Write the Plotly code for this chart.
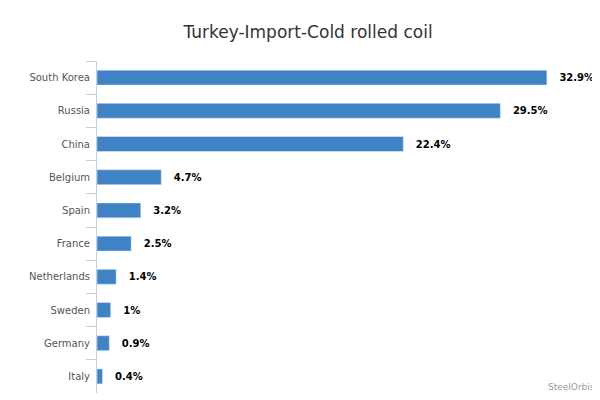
import plotly.graph_objects as go

countries = ["South Korea", "Russia", "China", "Belgium", "Spain", "France",
             "Netherlands", "Sweden", "Germany", "Italy"]
shares = [32.9, 29.5, 22.4, 4.7, 3.2, 2.5, 1.4, 1.0, 0.9, 0.4]
labels = ["32.9%", "29.5%", "22.4%", "4.7%", "3.2%", "2.5%", "1.4%", "1%", "0.9%", "0.4%"]

fig = go.Figure(go.Bar(
    x=shares, y=countries, orientation="h",
    marker=dict(color="#4083c4"), width=0.45,
    text=labels, texttemplate="   <b>%{text}</b>", textposition="outside", cliponaxis=False,
    textfont=dict(family="DejaVu Sans", size=10, color="#000000"),
))
fig.update_layout(
    width=600, height=400, plot_bgcolor="white", paper_bgcolor="white",
    margin=dict(l=89, r=1, t=53, b=15, autoexpand=False),
    title=dict(text="Turkey-Import-Cold rolled coil", x=0.5, xanchor="center", y=0.955,
               font=dict(family="DejaVu Sans", size=17, color="#333333")),
    font=dict(family="DejaVu Sans", size=10, color="#555555"),
    showlegend=False,
    annotations=[dict(text="SteelOrbis", x=1, y=0, xref="paper", yref="paper",
                      xanchor="right", yanchor="middle", yshift=6, xshift=-10, showarrow=False,
                      font=dict(size=9, color="#999999"))],
)
fig.update_xaxes(range=[0, 37.3], showgrid=False, showticklabels=False, zeroline=False,
                 automargin=False)
fig.update_yaxes(autorange="reversed", showline=True, linecolor="#c0d0e0", ticks="outside",
                 tickcolor="#c0d0e0", ticklen=10, tickson="boundaries", ticklabelstandoff=4,
                 automargin=False)
fig.write_html("out.html")
